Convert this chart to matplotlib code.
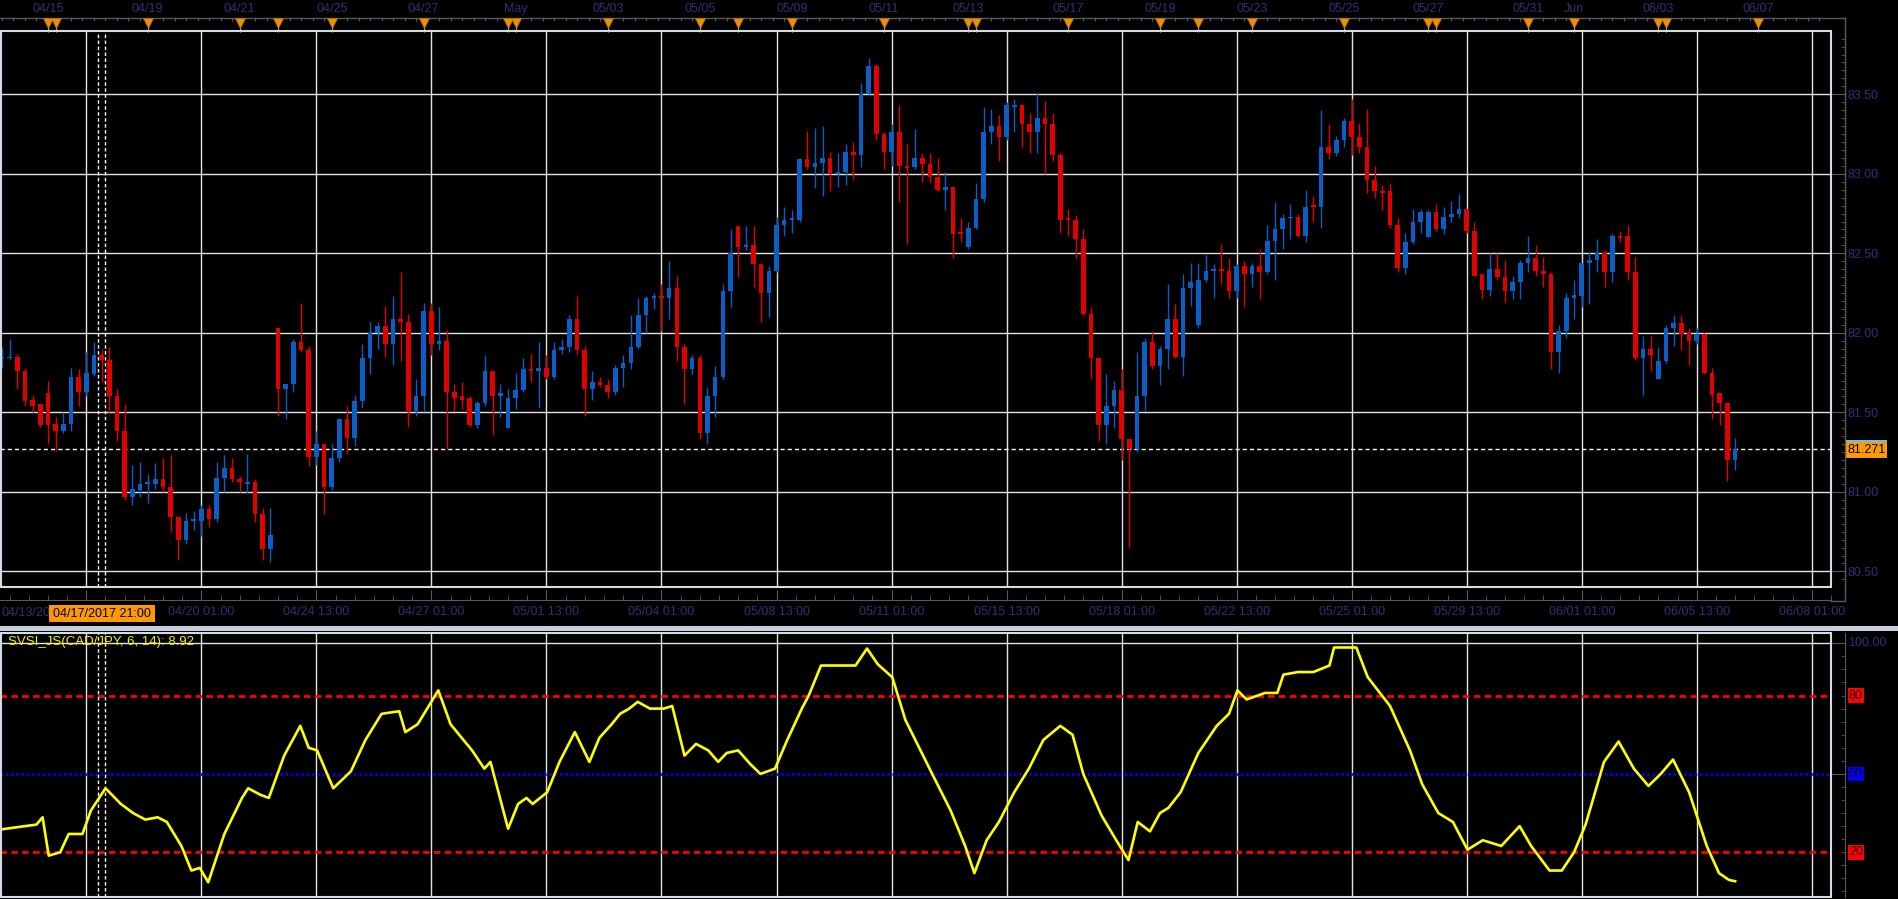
import numpy as np
import matplotlib
matplotlib.use("Agg")
import matplotlib.pyplot as plt
import matplotlib.transforms as mtransforms
from matplotlib.patches import Rectangle
from matplotlib.ticker import FixedLocator, MultipleLocator, FormatStrFormatter

plt.rcParams['font.family'] = ['Liberation Sans', 'DejaVu Sans']

# ---------------- data (4-hour CAD/JPY candles) ----------------
opens = [81.84, 81.84, 81.85, 81.76, 81.58, 81.55, 81.62, 81.43, 81.38, 81.43,
         81.72, 81.63, 81.74, 81.86, 81.83, 81.60, 81.38, 80.97, 81.01, 81.05,
         81.05, 81.08, 81.03, 80.84, 80.70, 80.82, 80.82, 80.89, 80.83, 81.09,
         81.15, 81.08, 81.05, 81.06, 80.86, 80.64, 82.03, 81.65, 81.68, 81.94,
         81.89, 81.22, 81.30, 81.03, 81.21, 81.46, 81.34, 81.57, 81.84, 82.00,
         82.04, 81.93, 82.09, 82.07, 81.51, 81.60, 82.14, 81.93, 81.95, 81.63,
         81.60, 81.59, 81.42, 81.56, 81.76, 81.60, 81.40, 81.59, 81.64, 81.77,
         81.76, 81.78, 81.72, 81.89, 81.91, 82.09, 81.89, 81.65, 81.69, 81.67,
         81.63, 81.78, 81.81, 81.91, 82.11, 82.22, 82.23, 82.22, 82.28, 81.91,
         81.77, 81.84, 81.37, 81.60, 81.72, 82.26, 82.67, 82.54, 82.55, 82.43,
         82.25, 82.39, 82.68, 82.71, 82.71, 83.09, 83.04, 83.07, 83.10, 83.00,
         83.01, 83.14, 83.12, 83.50, 83.68, 83.25, 83.14, 83.26, 83.05, 83.04,
         83.10, 83.06, 82.98, 82.90, 82.92, 82.63, 82.54, 82.66, 82.84, 83.26,
         83.30, 83.23, 83.42, 83.43, 83.31, 83.26, 83.35, 83.31, 83.12, 82.72,
         82.71, 82.59, 82.12, 81.84, 81.42, 81.54, 81.64, 81.33, 81.27, 81.60,
         81.94, 81.79, 81.90, 82.09, 81.85, 82.28, 82.05, 82.33, 82.39, 82.40,
         82.39, 82.26, 82.42, 82.37, 82.42, 82.38, 82.58, 82.65, 82.72, 82.73,
         82.61, 82.80, 82.79, 83.17, 83.13, 83.21, 83.33, 83.23, 83.17, 82.96,
         82.89, 82.89, 82.68, 82.41, 82.57, 82.70, 82.60, 82.76, 82.65, 82.73,
         82.75, 82.78, 82.64, 82.37, 82.27, 82.40, 82.35, 82.26, 82.32, 82.44,
         82.47, 82.39, 82.37, 81.88, 82.01, 82.22, 82.23, 82.44, 82.46, 82.50,
         82.38, 82.61, 82.61, 82.38, 81.84, 81.90, 81.71, 81.82, 82.03, 82.06,
         82.00, 81.95, 81.99, 81.75, 81.62, 81.56, 81.20]
highs = [81.91, 81.96, 81.87, 81.78, 81.61, 81.55, 81.70, 81.47, 81.50, 81.78,
         81.77, 81.88, 81.94, 81.90, 81.91, 81.65, 81.55, 81.17, 81.19, 81.11,
         81.18, 81.21, 81.23, 80.84, 80.87, 80.88, 80.92, 80.92, 81.19, 81.23,
         81.21, 81.10, 81.24, 81.08, 80.90, 80.90, 82.03, 81.68, 81.96, 82.19,
         81.92, 81.38, 81.30, 81.30, 81.46, 81.54, 81.61, 81.93, 82.07, 82.07,
         82.17, 82.23, 82.38, 82.12, 81.71, 82.19, 82.19, 82.16, 82.02, 81.68,
         81.69, 81.60, 81.57, 81.86, 81.76, 81.68, 81.65, 81.75, 81.84, 81.87,
         81.94, 81.86, 81.94, 81.96, 82.11, 82.23, 81.92, 81.76, 81.72, 81.71,
         81.80, 81.86, 82.11, 82.22, 82.23, 82.25, 82.31, 82.45, 82.36, 81.93,
         81.86, 81.86, 81.66, 81.79, 82.31, 82.65, 82.67, 82.67, 82.67, 82.43,
         82.42, 82.73, 82.79, 82.77, 83.10, 83.27, 83.29, 83.30, 83.14, 83.13,
         83.19, 83.20, 83.57, 83.73, 83.69, 83.26, 83.31, 83.43, 83.19, 83.28,
         83.13, 83.13, 83.10, 83.01, 82.92, 82.72, 82.70, 82.94, 83.42, 83.41,
         83.37, 83.45, 83.47, 83.44, 83.38, 83.51, 83.46, 83.38, 83.13, 82.78,
         82.74, 82.65, 82.16, 81.84, 81.74, 81.70, 81.77, 81.33, 81.88, 81.97,
         82.01, 81.92, 82.31, 82.18, 82.37, 82.44, 82.44, 82.49, 82.43, 82.56,
         82.47, 82.43, 82.45, 82.44, 82.53, 82.68, 82.82, 82.75, 82.81, 82.75,
         82.90, 82.86, 83.40, 83.31, 83.24, 83.35, 83.47, 83.32, 83.41, 83.05,
         82.93, 82.94, 82.72, 82.63, 82.78, 82.78, 82.77, 82.81, 82.79, 82.83,
         82.87, 82.78, 82.70, 82.37, 82.50, 82.50, 82.46, 82.36, 82.46, 82.61,
         82.55, 82.48, 82.38, 82.05, 82.25, 82.33, 82.44, 82.51, 82.59, 82.52,
         82.62, 82.64, 82.68, 82.48, 81.98, 81.98, 81.91, 82.05, 82.11, 82.11,
         82.03, 82.03, 82.00, 81.78, 81.62, 81.56, 81.34]
lows = [81.78, 81.83, 81.65, 81.54, 81.50, 81.41, 81.30, 81.26, 81.37, 81.38,
        81.54, 81.60, 81.73, 81.69, 81.50, 81.32, 80.95, 80.92, 80.97, 80.93,
        81.02, 81.00, 80.75, 80.57, 80.67, 80.76, 80.72, 80.78, 80.81, 81.00,
        81.06, 81.00, 80.99, 80.81, 80.57, 80.56, 81.48, 81.46, 81.63, 81.88,
        81.16, 81.17, 80.86, 81.01, 81.19, 81.24, 81.29, 81.53, 81.74, 81.90,
        81.85, 81.80, 81.82, 81.41, 81.48, 81.51, 81.86, 81.89, 81.27, 81.51,
        81.52, 81.41, 81.40, 81.54, 81.36, 81.47, 81.40, 81.52, 81.63, 81.69,
        81.53, 81.71, 81.71, 81.87, 81.88, 81.86, 81.48, 81.58, 81.66, 81.59,
        81.61, 81.66, 81.77, 81.90, 82.00, 82.15, 82.01, 82.09, 81.82, 81.55,
        81.74, 81.33, 81.30, 81.47, 81.71, 82.16, 82.35, 82.52, 82.29, 82.07,
        82.10, 82.38, 82.61, 82.63, 82.70, 83.03, 82.91, 82.86, 82.89, 82.92,
        82.93, 82.96, 83.04, 83.49, 83.21, 83.03, 83.05, 82.82, 82.56, 83.03,
        82.95, 82.94, 82.89, 82.77, 82.47, 82.57, 82.53, 82.65, 82.82, 83.19,
        83.08, 83.21, 83.26, 83.17, 83.13, 83.13, 83.00, 83.08, 82.63, 82.61,
        82.47, 82.11, 81.71, 81.32, 81.30, 81.40, 81.20, 80.65, 81.25, 81.51,
        81.77, 81.67, 81.77, 81.84, 81.73, 82.17, 82.03, 82.32, 82.22, 82.31,
        82.22, 82.22, 82.16, 82.29, 82.21, 82.37, 82.33, 82.53, 82.59, 82.60,
        82.57, 82.70, 82.66, 83.09, 83.11, 83.17, 83.12, 83.13, 82.88, 82.85,
        82.77, 82.66, 82.38, 82.37, 82.56, 82.63, 82.60, 82.64, 82.62, 82.70,
        82.72, 82.63, 82.36, 82.21, 82.23, 82.33, 82.19, 82.21, 82.21, 82.38,
        82.36, 82.29, 81.77, 81.75, 81.97, 82.09, 82.16, 82.18, 82.38, 82.29,
        82.32, 82.57, 82.33, 81.83, 81.61, 81.76, 81.71, 81.81, 81.92, 81.89,
        81.80, 81.93, 81.74, 81.46, 81.42, 81.07, 81.14]
closes = [81.85, 81.85, 81.76, 81.57, 81.54, 81.42, 81.42, 81.38, 81.43, 81.72,
          81.63, 81.75, 81.86, 81.83, 81.60, 81.38, 80.97, 81.02, 81.05, 81.06,
          81.08, 81.03, 80.84, 80.70, 80.82, 80.83, 80.89, 80.83, 81.09, 81.15,
          81.08, 81.06, 81.06, 80.86, 80.64, 80.73, 81.65, 81.68, 81.94, 81.89,
          81.22, 81.30, 81.03, 81.21, 81.46, 81.34, 81.57, 81.84, 82.00, 82.04,
          81.93, 82.09, 82.07, 81.51, 81.60, 82.14, 81.93, 81.95, 81.63, 81.59,
          81.58, 81.42, 81.56, 81.76, 81.60, 81.62, 81.59, 81.64, 81.77, 81.76,
          81.78, 81.72, 81.89, 81.91, 82.09, 81.89, 81.65, 81.69, 81.67, 81.63,
          81.78, 81.81, 81.91, 82.11, 82.22, 82.23, 82.22, 82.28, 81.91, 81.77,
          81.84, 81.37, 81.60, 81.72, 82.26, 82.50, 82.54, 82.55, 82.43, 82.25,
          82.39, 82.68, 82.71, 82.72, 83.09, 83.04, 83.07, 83.10, 83.00, 83.01,
          83.14, 83.12, 83.50, 83.68, 83.25, 83.14, 83.26, 83.05, 83.04, 83.10,
          83.06, 82.98, 82.90, 82.92, 82.62, 82.62, 82.66, 82.84, 83.26, 83.30,
          83.23, 83.43, 83.43, 83.31, 83.26, 83.35, 83.31, 83.12, 82.71, 82.71,
          82.59, 82.12, 81.84, 81.42, 81.54, 81.64, 81.33, 81.27, 81.60, 81.94,
          81.79, 81.90, 82.09, 81.85, 82.28, 82.32, 82.33, 82.39, 82.40, 82.39,
          82.26, 82.42, 82.37, 82.42, 82.38, 82.58, 82.65, 82.72, 82.73, 82.61,
          82.79, 82.79, 83.17, 83.13, 83.21, 83.33, 83.23, 83.17, 82.96, 82.89,
          82.88, 82.68, 82.41, 82.57, 82.70, 82.76, 82.76, 82.65, 82.73, 82.75,
          82.78, 82.64, 82.36, 82.27, 82.40, 82.35, 82.26, 82.32, 82.44, 82.47,
          82.39, 82.37, 81.88, 82.01, 82.22, 82.24, 82.44, 82.46, 82.50, 82.38,
          82.61, 82.60, 82.38, 81.84, 81.90, 81.86, 81.82, 82.03, 82.06, 81.99,
          81.95, 81.99, 81.75, 81.61, 81.56, 81.20, 81.271]

# SVSI indicator (bar index, value)
svsi_pos = [0, 4.5, 5.3, 6.1, 7.6, 8.7, 10.5, 11.6, 13.5, 15.5, 17.1, 18.7, 20.3, 21.5, 23.4,
            24.7, 25.8, 26.9, 29.0, 31.3, 32.1, 33.7, 34.8, 36.8, 38.9, 40.0, 41.1, 43.2,
            45.5, 47.4, 49.5, 51.8, 52.6, 54.2, 56.9, 58.5, 61.3, 62.9, 63.7, 66.0, 67.3,
            68.4, 69.2, 71.1, 72.7, 74.7, 76.6, 77.9, 79.5, 80.6, 81.8, 82.9, 84.5, 86.3,
            87.4, 89.0, 90.5, 92.1, 93.4, 94.5, 96.0, 97.6, 98.9, 100.8, 102.4, 104.3,
            105.2, 106.8, 110.2, 111.3, 112.8, 114.2, 116.1, 117.8, 121.3, 123.7, 125.6,
            126.8, 128.4, 130.0, 132.0, 133.9, 135.8, 138.0, 139.6, 141.0, 143.4, 145.3,
            146.9, 148.1, 149.7, 151.0, 152.1, 153.7, 156.0, 158.4, 160.0, 161.1, 162.3,
            164.7, 166.3, 167.1, 169.0, 171.0, 173.1, 173.7, 176.6, 178.1, 181.0, 183.6,
            185.2, 187.3, 189.2, 191.1, 193.1, 195.5, 197.9, 199.4, 201.8, 203.4, 205.0,
            206.5, 208.9, 210.8, 212.8, 214.7, 216.3, 217.9, 220.0, 222.3, 223.9, 225.2, 226.0]
svsi_val = [28.8, 30.6, 33.4, 18.7, 20, 27, 27, 36, 44.5, 38.5, 35, 32.5, 33.4, 31.6, 22.4,
            13, 14, 8.5, 27, 40.8, 44.5, 42, 40.8, 57, 68.4, 60, 59, 44.5, 51, 63, 73, 74,
            66, 69, 82, 69, 59, 52, 54.6, 29, 38.5, 40.8, 38.5, 43, 54.6, 66, 54.6, 63.8,
            69, 73, 75, 77.6, 75, 75, 76, 57, 61.5, 59, 54.6, 58, 59, 53.7, 50, 52, 63, 75,
            80, 91.5, 91.5, 91.5, 98, 92, 87, 70.7, 50, 36, 22.4, 12, 24.6, 31.6, 43, 52,
            63, 68.4, 65, 50, 34, 24.6, 17, 31.6, 28, 35, 37, 43, 58, 68.4, 73, 82, 78.5,
            81, 81, 88, 89, 89, 91.5, 98.4, 98.4, 87, 76, 59, 46, 35, 31.6, 21, 24.6, 22.4,
            30, 22.4, 13, 13, 20, 30.6, 54.6, 62.4, 52, 45.4, 50, 55.5, 43, 22.4, 12, 9.4, 8.92]

grid_bars = list(range(11, 237, 15))
bottom_labels = ['', '04/20 01:00', '04/24 13:00', '04/27 01:00', '05/01 13:00',
                 '05/04 01:00', '05/08 13:00', '05/11 01:00', '05/15 13:00', '05/18 01:00',
                 '05/22 13:00', '05/25 01:00', '05/29 13:00', '06/01 01:00', '06/05 13:00',
                 '06/08 01:00']
header_labels = ['04/15', '04/19', '04/21', '04/25', '04/27', 'May', '05/03', '05/05', '05/09',
                 '05/11', '05/13', '05/17', '05/19', '05/23', '05/25', '05/27', '05/31', 'Jun',
                 '06/03', '06/07']
header_bars = [6, 19, 31, 43, 55, 67, 79, 91, 103, 115, 126, 139, 151, 163, 175, 186, 199,
               205, 216, 229]
event_bars = [6, 7, 19, 31, 36, 43, 55, 66, 67, 79, 91, 96, 103, 115, 126, 127, 139, 151,
              156, 163, 175, 186, 187, 199, 205, 216, 217, 229]
price_ticks = [80.5, 81.0, 81.5, 82.0, 82.5, 83.0, 83.5]
cross_bar = 13
cross_label = '04/17/2017 21:00'
first_label = '04/13/20'
ind_label = 'SVSI_JS(CAD/JPY, 6, 14): 8.92'

# ---------------- styling ----------------
NAVY = '#2e3276'
BLUE = '#0a5ec6'
RED = '#e00000'
GRID = '#e2e2e2'
AXC = '#5a5a5a'
ORANGE = '#ff9900'
W, H = 1898, 899
PX = 72 / 100.0

fig = plt.figure(figsize=(W / 100, H / 100), dpi=100, facecolor='black')


def rect(x0, y0, x1, y1):
    return [x0 / W, 1 - y1 / H, (x1 - x0) / W, (y1 - y0) / H]


ax = fig.add_axes(rect(0, 32, 1831, 587))
ax2 = fig.add_axes(rect(0, 633, 1831, 897), sharex=ax)
ov = fig.add_axes([0, 0, 1, 1], zorder=10)
ov.set_xlim(0, W)
ov.set_ylim(H, 0)
ov.axis('off')
ov.patch.set_visible(False)

for a in (ax, ax2):
    a.set_facecolor('black')
    for s in ('top', 'left'):
        a.spines[s].set_visible(False)
    a.spines['right'].set_position(('outward', 14 * PX))
    a.spines['right'].set_color(AXC)
    a.yaxis.tick_right()
    a.set_axisbelow(True)

# ---- candles ----
o = np.array(opens); h = np.array(highs); l = np.array(lows); c = np.array(closes)
x = np.arange(len(o))
cols = np.where(c >= o, BLUE, RED)
ax.vlines(x, l, h, colors=cols, lw=1.0, zorder=3)
body = np.abs(c - o)
bh = np.maximum(body, 0.012)
bb = np.minimum(o, c) - (bh - body) / 2
ax.bar(x, bh, bottom=bb, width=0.6, color=cols, linewidth=0, zorder=4)
ax.axhline(closes[-1], color='white', lw=1.0, dashes=(3, 2.2), zorder=2)

ax.set_xlim(-0.254, 238.5)
ax.set_ylim(80.402, 83.8916)

ax.xaxis.set_major_locator(FixedLocator(grid_bars))
ax.xaxis.set_minor_locator(FixedLocator([11 + 2.5 * k for k in range(-4, 92)]))
ax.set_xticklabels(bottom_labels)
ax.spines['bottom'].set_position(('outward', 13 * PX))
ax.spines['bottom'].set_color(AXC)
ax.tick_params(axis='x', which='major', direction='in', length=10 * PX, color=AXC,
               labelcolor=NAVY, labelsize=9, pad=6 * PX, top=False)
ax.tick_params(axis='x', which='minor', direction='in', length=5 * PX, color=AXC, top=False)
ax.yaxis.set_major_locator(FixedLocator(price_ticks))
ax.yaxis.set_major_formatter(FormatStrFormatter('%.2f'))
ax.yaxis.set_minor_locator(MultipleLocator(0.05))
ax.tick_params(axis='y', which='major', direction='in', length=14 * PX, color=AXC,
               labelcolor=NAVY, labelsize=9, pad=3 * PX, left=False)
ax.tick_params(axis='y', which='minor', direction='in', length=4 * PX, color=AXC, left=False)
ax.grid(which='major', color=GRID, lw=1.0)

# ---- indicator pane ----
ax2.spines['bottom'].set_visible(False)
ax2.set_ylim(2.87, 103.95)
ax2.tick_params(axis='x', which='both', bottom=False, labelbottom=False)
ax2.yaxis.set_major_locator(FixedLocator([50, 100]))
ax2.yaxis.set_minor_locator(FixedLocator(list(range(5, 101, 5))))
ax2.tick_params(axis='y', which='major', direction='in', length=14 * PX, color=AXC,
                labelright=False, left=False)
ax2.tick_params(axis='y', which='minor', direction='in', length=4 * PX, color=AXC, left=False)
ax2.grid(axis='x', which='major', color=GRID, lw=1.0)
ax2.axhline(100, color=GRID, lw=1.0, zorder=1)
ax2.axhline(80, color='#ff0000', lw=2.0, dashes=(2.4, 1.5), zorder=2)
ax2.axhline(20, color='#ff0000', lw=2.0, dashes=(2.4, 1.5), zorder=2)
ax2.axhline(50, color='#0000ff', lw=1.9, dashes=(1, 1), zorder=2)
ax2.plot(svsi_pos, svsi_val, color='#ffff00', lw=1.9, zorder=4, solid_joinstyle='round')

for a in (ax, ax2):
    a.axvline(cross_bar - 0.45, color='white', lw=1.0, dashes=(2.5, 1.8), zorder=2)
    a.axvline(cross_bar + 0.45, color='white', lw=1.0, dashes=(2.5, 1.8), zorder=2)

# ---- overlay decorations (pixel coordinates) ----
bt = mtransforms.blended_transform_factory(ax.transData, ov.transData)

ov.add_patch(Rectangle((0, 625.5), W, 5, color='#c6d0dc', lw=0))
ov.add_patch(Rectangle((0.8, 31.2), 1830.2, 555.8, fill=False, ec='#d4dbe3', lw=1.5))
ov.add_patch(Rectangle((0.8, 632.5), 1830.2, 264.5, fill=False, ec='#d4dbe3', lw=1.5))
ov.plot([0, 1845.5], [18, 18], color=AXC, lw=1.0)
ov.plot([1845.5, 1845.5], [18, 600], color=AXC, lw=1.0)
ov.plot([1831, 1845.5], [600.5, 600.5], color=AXC, lw=1.0)

# header ticks, labels, event markers
ov.vlines(np.arange(0, 238, 1.5), 18, 21, color=AXC, lw=0.8, transform=bt)
ov.vlines(header_bars, 18, 24, color=AXC, lw=0.8, transform=bt)
for lab, b in zip(header_labels, header_bars):
    ov.text(b, 9, lab, transform=bt, ha='center', va='center', color=NAVY, fontsize=9)
ov.vlines(event_bars, 26, 32, color='#cfcfcf', lw=0.8, transform=bt)
ov.plot(event_bars, [23] * len(event_bars), ls='none', marker='v', ms=7,
        color='#e8900c', mec='#b86a00', mew=0.5, transform=bt)

# bottom-left first date (cut by crosshair box) + crosshair box
cx = ax.transData.transform((cross_bar, 0))[0]
ov.text(1, 613.5, first_label, ha='left', va='center', color=NAVY, fontsize=9, zorder=3)
ov.add_patch(Rectangle((cx - 53, 605), 106, 17, color=ORANGE, lw=0, zorder=5))
ov.text(cx, 613.8, cross_label, ha='center', va='center', color='black', fontsize=9, zorder=6)

# current price box
py = H - ax.transData.transform((0, closes[-1]))[1]
ov.add_patch(Rectangle((1846, py - 9), 41, 18, color=ORANGE, lw=0))
ov.add_patch(Rectangle((1846, py - 9), 41, 2, color='#5cc4f0', lw=0))
ov.text(1866.5, py + 0.8, '%.3f' % closes[-1], ha='center', va='center', color='black',
        fontsize=9)

# indicator level labels
def ylev(v):
    return H - ax2.transData.transform((0, v))[1]

ov.text(1848, ylev(100), '100.00', ha='left', va='center', color=NAVY, fontsize=9)
for v, fc, tc in ((80, '#ff0000', '#2a0000'), (50, '#0000ff', '#000020'),
                  (20, '#ff0000', '#2a0000')):
    ov.text(1849, ylev(v), str(v), ha='left', va='center', color=tc, fontsize=9,
            bbox=dict(facecolor=fc, edgecolor='none', pad=1.0))

ov.text(8, 641.5, ind_label, ha='left', va='center', color='#f2f200', fontsize=9.5)

fig.savefig('out.png', dpi=100, facecolor='black')
